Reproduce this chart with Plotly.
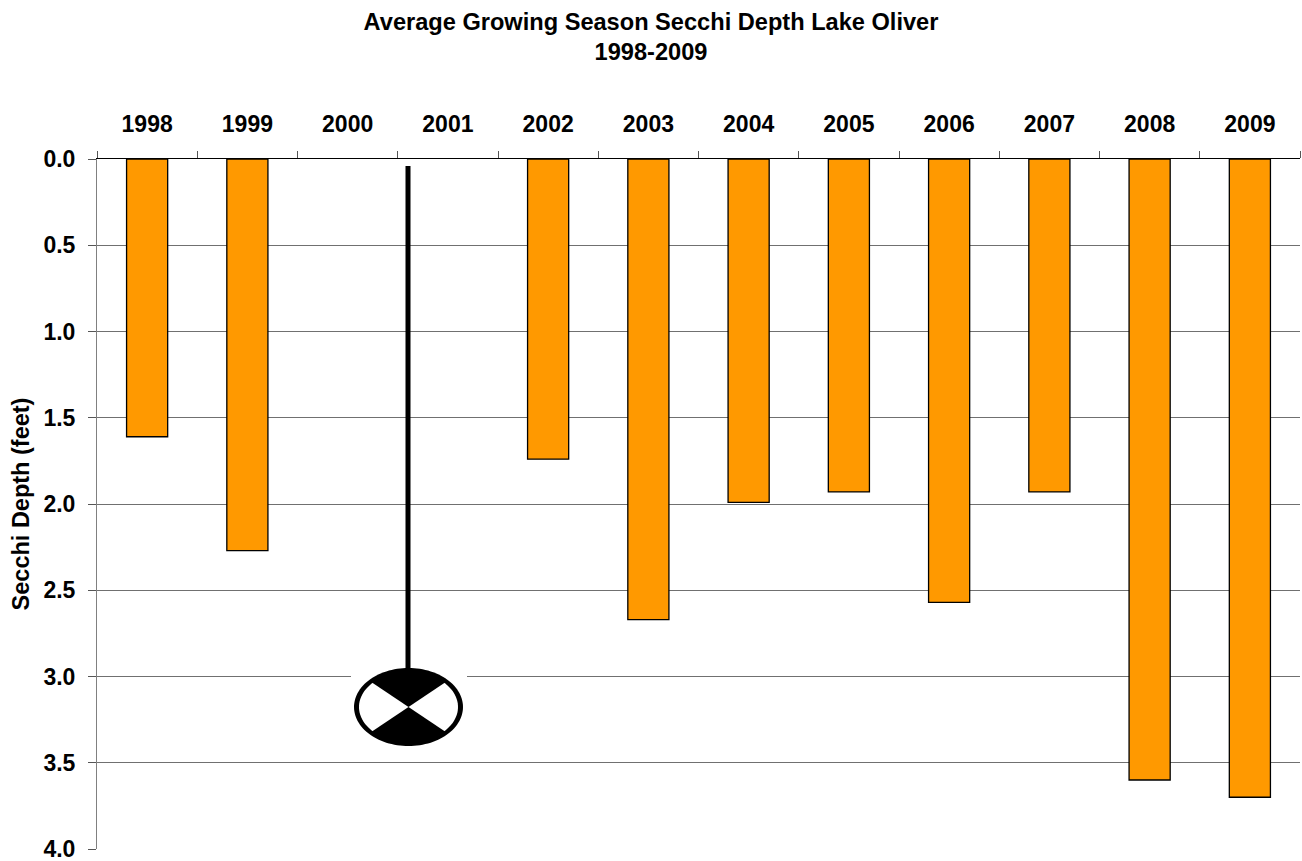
import numpy as np
import plotly.graph_objects as go

years = ["1998", "1999", "2000", "2001", "2002", "2003", "2004", "2005", "2006", "2007", "2008", "2009"]
secchi_feet = [1.61, 2.27, None, None, 1.74, 2.67, 1.99, 1.93, 2.57, 1.93, 3.60, 3.70]
y_ticks = [0, 0.5, 1, 1.5, 2, 2.5, 3, 3.5, 4]
y_labels = ["0.0", "0.5", "1.0", "1.5", "2.0", "2.5", "3.0", "3.5", "4.0"]

FONT = "Liberation Sans"
W, H = 1302, 880  # taller than the window so the bottom tick label is not dropped
L, R, T, B = 97, 1300, 159, 849  # plot area in page pixels

def px(x):
    return -0.5 + (x - L) / (R - L) * 12

def py(y):
    return (y - T) / (B - T) * 4

def poly(pts):
    return "M " + " L ".join(f"{px(x):.4f},{py(y):.4f}" for x, y in pts) + " Z"

cx, cy, rx, ry = 408.5, 707, 54.5, 39
shapes = []
shapes.append(dict(type="rect", xref="x", yref="y", layer="above", x0=px(351), x1=px(467), y0=py(664), y1=py(750),
                   fillcolor="white", line_width=0))
shapes.append(dict(type="line", xref="x", yref="y", layer="above", x0=px(cx - 0.5), x1=px(cx - 0.5), y0=py(166), y1=py(675),
                   line=dict(color="black", width=5)))
t = np.linspace(0, 2 * np.pi, 121)
ellipse = [(cx + rx * np.cos(a), cy + ry * np.sin(a)) for a in t]
shapes.append(dict(type="path", xref="x", yref="y", layer="above", path=poly(ellipse), fillcolor="black", line_width=0))
inner = [(cx + (rx - 5) * np.cos(a), cy + (ry - 4) * np.sin(a)) for a in t]
shapes.append(dict(type="path", xref="x", yref="y", layer="above", path=poly(inner), fillcolor="white", line_width=0))
for mid in (-90, 90):
    m = np.deg2rad(mid)
    a = np.linspace(m - np.deg2rad(47), m + np.deg2rad(47), 41)
    pts = [(cx, cy)] + [(cx + (rx - 3) * np.cos(v), cy + (ry - 2) * np.sin(v)) for v in a]
    shapes.append(dict(type="path", xref="x", yref="y", layer="above", path=poly(pts), fillcolor="black", line_width=0))

fig = go.Figure(go.Bar(x=years, y=secchi_feet, marker=dict(color="#FF9900", line=dict(color="black", width=1.3)), showlegend=False))

fig.update_layout(
    width=W, height=H, bargap=0.59, plot_bgcolor="white", paper_bgcolor="white",
    margin=dict(l=L, r=W - R, t=T, b=H - B, autoexpand=False),
    font=dict(family=FONT, size=23, color="black"),
    title=dict(text="<b>Average Growing Season Secchi Depth Lake Oliver<br>1998-2009</b>",
               x=651 / W, xanchor="center", y=1 - 29.5 / H, yanchor="top", font=dict(family=FONT, size=23.6, color="black")),
    shapes=shapes,
    xaxis=dict(type="category", categoryorder="array", categoryarray=years, side="top", range=[-0.5, 11.5],
               tickson="boundaries", ticks="outside", ticklen=7, tickwidth=1, tickcolor="#555555",
               ticklabelstandoff=17,
               showline=True, linecolor="black", linewidth=1, showgrid=False,
               tickfont=dict(family=FONT, size=23, weight="bold", color="black"), tickangle=0),
    yaxis=dict(range=[4, 0], tickvals=y_ticks, ticktext=y_labels, ticks="outside", ticklen=8, tickwidth=1,
               tickcolor="#555555", showline=True, linecolor="#808080", linewidth=1, ticklabelstandoff=8,
               showgrid=True, gridcolor="#707070", gridwidth=1, zeroline=False,
               tickfont=dict(family=FONT, size=23, weight="bold", color="black"),
               title=dict(text="<b>Secchi Depth (feet)</b>", standoff=7, font=dict(family=FONT, size=23.5, color="black"))),
)
fig.write_html("out.html", config=dict(displayModeBar=False),
               post_script="document.body.style.margin='0';document.documentElement.style.overflow='hidden';")
